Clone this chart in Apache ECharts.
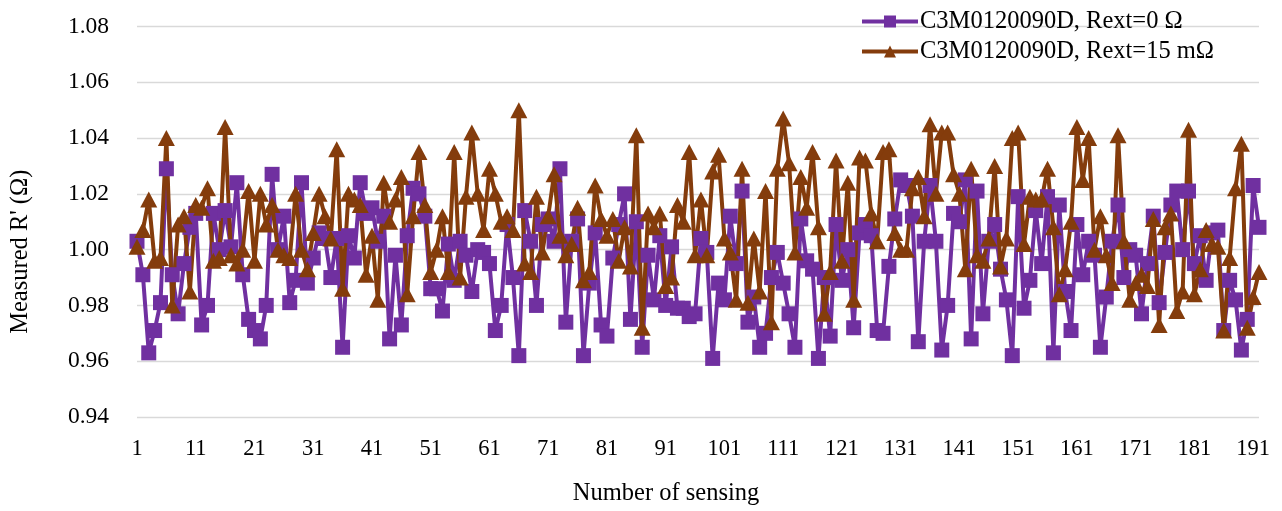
<!DOCTYPE html>
<html>
<head>
<meta charset="utf-8">
<script src="https://cdn.jsdelivr.net/npm/echarts@6/dist/echarts.min.js"></script>
<style>
html,body{margin:0;padding:0;background:#fff;}
#c{width:1282px;height:511px;}
</style>
</head>
<body>
<div id="c"></div>
<script>
// Categories: sensing number 1..192
const categories = [];
for (let i = 1; i <= 192; i++) categories.push(String(i));

const seriesNames = ["C3M0120090D, Rext=0 \u03A9", "C3M0120090D, Rext=15 m\u03A9"];

// Measured R' (Ω), Rext = 0 Ω
const rext0 = [
1.003,0.991,0.963,0.971,0.981,1.029,0.991,0.977,0.995,1.008,
1.013,0.973,0.980,1.013,1.000,1.014,1.001,1.024,0.991,0.975,
0.971,0.968,0.980,1.027,1.000,1.012,0.981,0.989,1.024,0.988,
0.997,1.006,1.004,0.990,1.004,0.965,1.005,0.997,1.024,1.013,
1.015,1.003,1.012,0.968,0.998,0.973,1.005,1.022,1.020,1.012,
0.986,0.986,0.978,1.002,0.989,1.003,0.998,0.985,1.000,0.999,
0.995,0.971,0.980,1.009,0.990,0.962,1.014,1.003,0.980,1.009,
1.011,1.003,1.029,0.974,1.003,1.011,0.962,0.988,1.006,0.973,
0.969,0.997,1.009,1.020,0.975,1.010,0.965,0.998,0.982,1.005,
0.980,1.001,0.979,0.979,0.976,0.977,1.004,0.999,0.961,0.988,
0.982,1.012,0.995,1.021,0.974,0.983,0.965,0.970,0.990,0.999,
0.988,0.977,0.965,1.011,0.996,0.993,0.961,0.990,0.969,1.009,
0.989,1.000,0.972,1.006,1.009,1.005,0.971,0.970,0.994,1.011,
1.025,1.023,1.012,0.967,1.003,1.023,1.003,0.964,0.980,1.013,
1.010,1.025,0.968,1.021,0.977,1.003,1.009,0.993,0.982,0.962,
1.019,0.979,0.989,1.014,0.995,1.019,0.963,1.016,0.985,0.971,
1.009,0.991,1.003,0.998,0.965,0.983,1.003,1.016,0.990,1.000,
0.998,0.977,0.995,1.012,0.981,0.999,1.016,1.021,1.000,1.021,
0.995,1.005,0.989,1.006,1.007,0.971,0.989,0.982,0.964,0.975,
1.023,1.008
];

// Measured R' (Ω), Rext = 15 mΩ
const rext15 = [
1.001,1.007,1.018,0.996,0.997,1.040,0.980,1.009,1.012,0.985,
1.016,1.015,1.022,0.996,0.997,1.044,0.998,0.995,1.000,1.021,
0.996,1.020,1.009,1.016,1.000,0.998,0.997,1.020,1.000,0.993,
1.006,1.020,1.012,1.004,1.036,0.986,1.020,1.018,1.016,0.991,
1.005,0.982,1.024,1.010,1.018,1.026,0.984,1.012,1.035,1.016,
0.992,1.000,1.012,0.992,1.035,0.990,1.019,1.042,1.020,1.007,
1.029,1.020,1.010,1.012,1.007,1.050,0.995,0.992,1.019,0.999,
1.012,1.027,1.005,0.998,1.002,1.015,0.989,0.992,1.023,1.011,
1.005,1.011,0.996,1.008,0.994,1.041,0.972,1.013,1.008,1.013,
0.987,0.990,1.016,1.010,1.035,0.998,1.018,0.998,1.028,1.034,
1.004,0.999,0.982,1.029,0.981,1.004,0.985,1.021,0.974,1.029,
1.047,1.031,0.999,1.026,1.015,1.035,1.008,0.977,0.992,1.032,
0.996,1.024,0.982,1.033,1.032,1.013,1.003,1.035,1.036,1.006,
1.000,1.000,1.022,1.026,1.012,1.045,1.020,1.042,1.042,1.027,
1.020,0.993,1.029,0.998,0.996,1.004,1.030,0.994,1.004,1.040,
1.042,1.002,1.019,1.018,1.018,1.029,1.008,0.984,0.993,1.010,
1.044,1.025,1.040,1.000,1.012,0.998,0.988,1.041,1.003,0.982,
0.988,0.991,0.987,1.011,0.973,1.008,1.013,0.978,0.985,1.043,
0.984,0.993,1.007,1.002,1.001,0.971,0.997,1.022,1.038,0.972,
0.983,0.992
];

const yMin = 0.94, yMax = 1.08, yStep = 0.02;

const font = "'Liberation Serif','Times New Roman',serif";
const chart = echarts.init(document.getElementById('c'), null, {renderer:'canvas'});
chart.setOption({
  backgroundColor: '#ffffff',
  animation: false,
  textStyle: {fontFamily: font, color: '#000'},
  grid: {left: 137, right: 23, top: 26.5, bottom: 85.5, containLabel: false},
  legend: {
    orient: 'vertical',
    left: 855, top: 4,
    itemWidth: 56, itemHeight: 15, itemGap: 5,
    lineStyle: {width: 4},
    textStyle: {fontFamily: font, fontSize: 24.5, color: '#000', padding:[0,0,0,-3]},
    data: seriesNames
  },
  xAxis: {
    type: 'category',
    data: categories,
    boundaryGap: false,
    axisLine: {show: false},
    axisTick: {show: false},
    axisLabel: {interval: 9, fontFamily: font, fontSize: 22.5, color: '#000', margin: 21},
    splitLine: {show: false},
    name: 'Number of sensing',
    nameLocation: 'middle',
    nameGap: 64,
    nameTextStyle: {fontFamily: font, fontSize: 24.5, color: '#000', padding: [0, 64, 0, 0]}
  },
  yAxis: {
    type: 'value',
    min: yMin, max: yMax, interval: yStep,
    axisLine: {show: false},
    axisTick: {show: false},
    axisLabel: {fontFamily: font, fontSize: 23.5, color: '#000', margin: 28,
      formatter: v => v.toFixed(2)},
    splitLine: {lineStyle: {color: '#d9d9d9', width: 1.3}},
    name: "Measured R' (\u03A9)",
    nameLocation: 'middle',
    nameRotate: 90,
    nameGap: 104,
    nameTextStyle: {fontFamily: font, fontSize: 24.5, color: '#000', padding: [0, 60, 0, 0]}
  },
  series: [
    {
      name: seriesNames[0], type: 'line', data: rext0,
      symbol: 'rect', symbolSize: 15,
      lineStyle: {color: '#7030A0', width: 4},
      itemStyle: {color: '#7030A0'},
      showAllSymbol: true
    },
    {
      name: seriesNames[1], type: 'line', data: rext15,
      symbol: 'triangle', symbolSize: [17, 16],
      lineStyle: {color: '#843C0C', width: 4},
      itemStyle: {color: '#843C0C'},
      showAllSymbol: true
    }
  ]
});
</script>
</body>
</html>
